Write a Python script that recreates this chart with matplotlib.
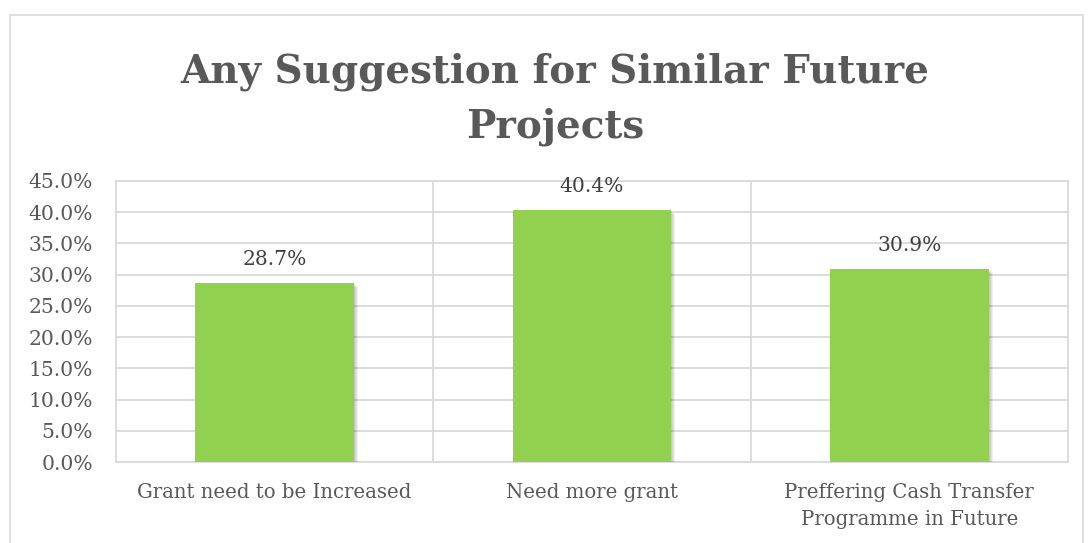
import matplotlib
matplotlib.use("Agg")
import matplotlib.pyplot as plt
import matplotlib.patheffects as pe
from matplotlib.patches import Rectangle
from matplotlib.ticker import MultipleLocator, FuncFormatter

categories = ["Grant need to be Increased", "Need more grant",
              "Preffering Cash Transfer\nProgramme in Future"]
values = [28.7, 40.4, 30.9]
title_lines = ["Any Suggestion for Similar Future", "Projects"]

W, H = 1088, 543
fig = plt.figure(figsize=(W / 100, H / 100), dpi=100)
fig.patch.set_facecolor("white")

# chart-area border
fig.patches.append(Rectangle((10 / W, -0.05), 1073 / W, 1 - 15 / H + 0.05,
                             transform=fig.transFigure, fill=False,
                             edgecolor="#D9D9D9", linewidth=1.2))

ax = fig.add_axes([116 / W, 1 - 462 / H, (1068 - 116) / W, (462 - 181) / H])
x = range(len(categories))

# soft drop shadow built from layered translucent offsets
shadow = [pe.SimplePatchShadow(offset=(d, -d), shadow_rgbFace="black",
                               alpha=0.06) for d in (3, 2.2, 1.5, 0.8)]
ax.bar(x, values, width=0.5, color="#92D050", zorder=3,
       path_effects=shadow + [pe.Normal()])

ax.set_xlim(-0.5, len(categories) - 0.5)
ax.set_ylim(0, 45)
ax.yaxis.set_major_locator(MultipleLocator(5))
ax.yaxis.set_major_formatter(FuncFormatter(lambda v, _: f"{v:.1f}%"))

ax.set_axisbelow(True)
ax.grid(axis="y", color="#D9D9D9", linewidth=1.3)
for b in [0.5, 1.5]:
    ax.axvline(b, color="#D9D9D9", linewidth=1.3, zorder=0)

for s in ax.spines.values():
    s.set_color("#D9D9D9")
    s.set_linewidth(1.3)

font = "DejaVu Serif"
ax.set_xticks(list(x))
ax.set_xticklabels(categories, fontfamily=font, fontsize=14.2, color="#595959",
                   linespacing=1.55)
ax.tick_params(axis="x", length=0, pad=15)
ax.tick_params(axis="y", length=0, pad=16.5, labelsize=14.6, labelcolor="#595959")
for t in ax.get_yticklabels():
    t.set_fontfamily(font)

for xi, v in zip(x, values):
    ax.annotate(f"{v:.1f}%", (xi, v), xytext=(0, 13), textcoords="offset points",
                ha="center", va="baseline", fontfamily=font, fontsize=14.6,
                color="#404040")

for line, base in zip(title_lines, [82, 138]):
    fig.text(555 / W, 1 - base / H, line, ha="center", va="baseline",
             fontfamily=font, fontweight="bold", fontsize=28, color="#595959")

fig.savefig("out.png", dpi=100)
